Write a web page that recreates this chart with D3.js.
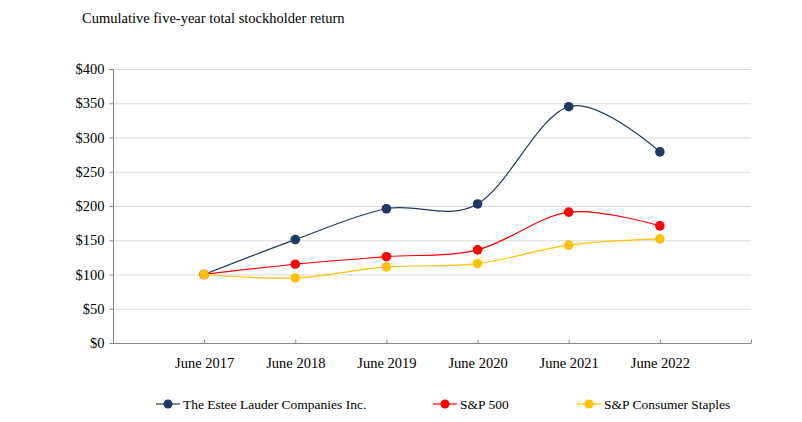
<!DOCTYPE html>
<html><head><meta charset="utf-8">
<script src="https://cdn.jsdelivr.net/npm/d3@7"></script>
<style>body{margin:0;background:#fff}svg{display:block}</style>
</head><body>
<svg id="c" width="802" height="422"></svg>
<script>
const categories = ["June 2017","June 2018","June 2019","June 2020","June 2021","June 2022"];
const esteeLauder = [100,151,196,203,345,279];
const sp500 = [100,115,126,136,191,171];
const spStaples = [100,95,111,116,143,152];
const yTicks = [0,50,100,150,200,250,300,350,400];
const title = "Cumulative five-year total stockholder return";
const seriesNames = ["The Estee Lauder Companies Inc.","S&P 500","S&P Consumer Staples"];
const seriesColors = ["#1f3864","#ff0000","#ffc000"];

(function(){
const FONT = "'Liberation Serif', 'Times New Roman', Tinos, 'DejaVu Serif', serif";
const series = [esteeLauder, sp500, spStaples].map((v,i)=>({name:seriesNames[i], color:seriesColors[i], values:v}));

const svg = d3.select("#c");
const mL = 113, mR = 751, mT = 69, mB = 343;
const x = d3.scalePoint().domain(d3.range(categories.length+2)).range([mL,mR]);
const y = d3.scaleLinear().domain([0,400]).range([mB,mT]);

svg.append("text").attr("x",82).attr("y",23).style("font-family",FONT).style("font-size","14.5px").attr("fill","#000").text(title);

// gridlines
svg.append("g").selectAll("line").data(yTicks.slice(1)).join("line")
  .attr("x1",mL).attr("x2",mR).attr("y1",d=>y(d)+0.5).attr("y2",d=>y(d)+0.5)
  .attr("stroke","#d9d9d9").attr("stroke-width",1);

// y axis
const yAxis = svg.append("g").attr("transform",`translate(${mL+0.5},0)`)
  .call(d3.axisLeft(y).tickValues(yTicks).tickSize(4).tickPadding(5).tickFormat(d=>"$"+d));
yAxis.selectAll("path,line").attr("stroke","#868686");
yAxis.select(".domain").attr("d",`M0,${mT}V${mB}`);
yAxis.selectAll("text").style("font-size","14.5px").style("font-family",FONT).attr("fill","#000");

// x axis
const xAxis = svg.append("g").attr("transform",`translate(0,${mB+0.5})`)
  .call(d3.axisBottom(x).tickValues(d3.range(1,categories.length+2)).tickSize(-4).tickPadding(14)
    .tickFormat(i=>categories[i-1]||""));
xAxis.selectAll("path,line").attr("stroke","#868686");
xAxis.select(".domain").attr("d",`M${mL-3},0H${mR}`);
xAxis.selectAll("text").style("font-size","14.5px").style("font-family",FONT).attr("fill","#000");

const line = d3.line().x((d,i)=>x(i+1)).y(d=>y(d)).curve(d3.curveCardinal.tension(0));

const g = svg.append("g");
series.forEach(s=>{
  g.append("path").datum(s.values).attr("d",line).attr("fill","none").attr("stroke",s.color).attr("stroke-width",1.2);
});
series.forEach(s=>{
  g.selectAll(null).data(s.values).join("circle").attr("cx",(d,i)=>x(i+1)).attr("cy",d=>y(d)).attr("r",4.8).attr("fill",s.color);
});

// legend
const legX = [156,433,577];
const legY = 404;
series.forEach((s,i)=>{
  const lg = svg.append("g").attr("transform",`translate(${legX[i]},${legY})`);
  lg.append("line").attr("x1",0).attr("x2",24).attr("y1",0).attr("y2",0).attr("stroke",s.color).attr("stroke-width",1.2);
  lg.append("circle").attr("cx",12).attr("cy",0).attr("r",4.5).attr("fill",s.color);
  lg.append("text").attr("x",27).attr("y",4.5).style("font-family",FONT).style("font-size","13.5px").attr("fill","#000").text(s.name);
});
})();
</script>
</body></html>
